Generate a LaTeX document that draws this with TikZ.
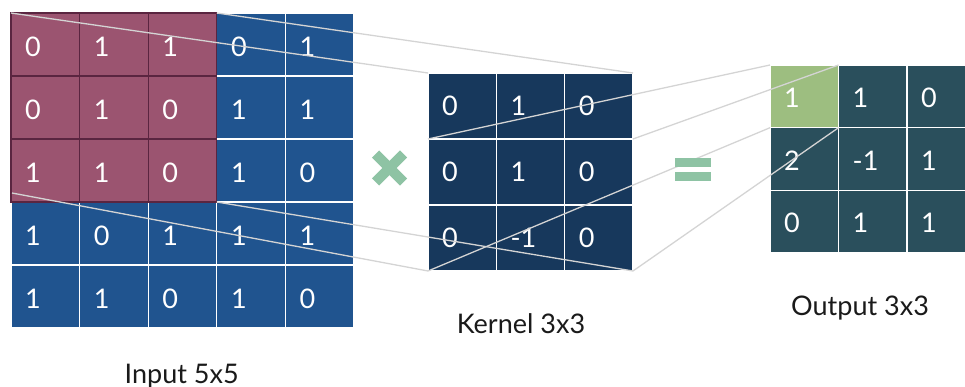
\documentclass[tikz,border=0pt]{standalone}
\usepackage{fontspec}
\setmainfont{Lato}
\usetikzlibrary{calc}
\definecolor{inblue}{HTML}{20548F}
\definecolor{winpurple}{HTML}{9B5470}
\definecolor{winedge}{HTML}{5A2540}
\definecolor{kerblue}{HTML}{17385C}
\definecolor{outteal}{HTML}{2A4F5C}
\definecolor{outgreen}{HTML}{9DBE80}
\definecolor{opgreen}{HTML}{8EC3A4}
\definecolor{guide}{HTML}{D4D4D4}
\definecolor{labeltext}{HTML}{1A1A1A}
\begin{document}
\begin{tikzpicture}[x=1pt,y=-1pt,
  cellbox/.style={draw=white, line width=1.3pt, inner sep=0pt, outer sep=0pt},
  numtext/.style={text=white, font=\fontsize{27}{27}\selectfont, anchor=base west, inner sep=0pt},
  caption/.style={text=labeltext, font=\fontsize{27}{27}\selectfont, anchor=base, inner sep=0pt},
  guideline/.style={draw=guide, line width=1.3pt},
  opmark/.style={opgreen}
]
\useasboundingbox (0,0) rectangle (965,387);

% ---------------- Input 5x5 ----------------
\def\inW{68.6}\def\inH{63}
\foreach \row/\vals in {1/{0,1,1,0,1},2/{0,1,0,1,1},3/{1,1,0,1,0},4/{1,0,1,1,1},5/{1,1,0,1,0}}{
  \foreach \v [count=\col] in \vals {
    \pgfmathsetmacro{\cx}{11+(\col-0.5)*\inW}
    \pgfmathsetmacro{\cy}{13+(\row-0.5)*\inH}
    \node[cellbox, fill=inblue, minimum width=\inW pt, minimum height=\inH pt] (in-\row-\col) at (\cx,\cy) {};
  }
}
\foreach \row in {1,2,3}{
  \foreach \col in {1,2,3}{
    \pgfmathsetmacro{\cx}{11+(\col-0.5)*\inW}
    \pgfmathsetmacro{\cy}{13+(\row-0.5)*\inH}
    \node[cellbox, draw=winedge, fill=winpurple, minimum width=\inW pt, minimum height=\inH pt] (w-\row-\col) at (\cx,\cy) {};
  }
}
\foreach \row/\vals in {1/{0,1,1,0,1},2/{0,1,0,1,1},3/{1,1,0,1,0},4/{1,0,1,1,1},5/{1,1,0,1,0}}{
  \foreach \v [count=\col] in \vals {
    \pgfmathsetmacro{\tx}{11+(\col-1)*\inW+14}
    \pgfmathsetmacro{\ty}{13+(\row-1)*\inH+43.5}
    \node[numtext] (in-t-\row-\col) at (\tx,\ty) {\v};
  }
}

% ---------------- Kernel 3x3 ----------------
\def\kW{68.33}\def\kH{66}
\foreach \row/\vals in {1/{0,1,0},2/{0,1,0},3/{0,-1,0}}{
  \foreach \v [count=\col] in \vals {
    \pgfmathsetmacro{\cx}{428+(\col-0.5)*\kW}
    \pgfmathsetmacro{\cy}{73+(\row-0.5)*\kH}
    \node[cellbox, fill=kerblue, minimum width=\kW pt, minimum height=\kH pt] (k-\row-\col) at (\cx,\cy) {};
    \pgfmathsetmacro{\tx}{428+(\col-1)*\kW+14}
    \pgfmathsetmacro{\ty}{73+(\row-1)*\kH+42.5}
    \node[numtext] (k-t-\row-\col) at (\tx,\ty) {\v};
  }
}

% ---------------- Output 3x3 ----------------
\def\oW{68.5}\def\oH{62.7}
\foreach \row/\vals in {1/{1,1,0},2/{2,-1,1},3/{0,1,1}}{
  \foreach \v [count=\col] in \vals {
    \pgfmathsetmacro{\cx}{770+(\col-0.5)*\oW}
    \pgfmathsetmacro{\cy}{65+(\row-0.5)*\oH}
    \ifnum\row\col=11
      \node[cellbox, fill=outgreen, minimum width=\oW pt, minimum height=\oH pt] (o-\row-\col) at (\cx,\cy) {};
    \else
      \node[cellbox, fill=outteal, minimum width=\oW pt, minimum height=\oH pt] (o-\row-\col) at (\cx,\cy) {};
    \fi
    \pgfmathsetmacro{\tx}{770+(\col-1)*\oW+14}
    \pgfmathsetmacro{\ty}{65+(\row-1)*\oH+42.5}
    \node[numtext] (o-t-\row-\col) at (\tx,\ty) {\v};
  }
}

% ---------------- Guide lines ----------------
\coordinate (wbl) at (12,193);
\draw[guideline] (w-1-1.north west) -- (k-1-1.north west);
\draw[guideline] (w-1-3.north east) -- (k-1-3.north east);
\draw[guideline] (wbl) -- (k-3-1.south west);
\draw[guideline] (w-3-3.south east) -- (k-3-3.south east);

\draw[guideline] (k-1-1.south west) -- (o-1-1.north west);
\draw[guideline] (k-1-3.south east) -- (o-1-1.north east);
\draw[guideline] (k-3-1.south west) -- (o-1-1.south west);
\draw[guideline] (k-3-3.south east) -- (o-1-1.south east);

% ---------------- Operators ----------------
\coordinate (xc) at (389.5,168);
\draw[opgreen, line width=10pt] ($(xc)+(-14,-14)$) -- ($(xc)+(14,14)$);
\draw[opgreen, line width=10pt] ($(xc)+(-14,14)$) -- ($(xc)+(14,-14)$);
\fill[opgreen] (675,158) rectangle (711,167);
\fill[opgreen] (675,172) rectangle (711,181);

% ---------------- Captions ----------------
\node[caption] (capin) at (181.7,383) {Input 5x5};
\node[caption] (capk) at (521,333.3) {Kernel 3x3};
\node[caption] (capo) at (860,315) {Output 3x3};
\end{tikzpicture}
\end{document}
